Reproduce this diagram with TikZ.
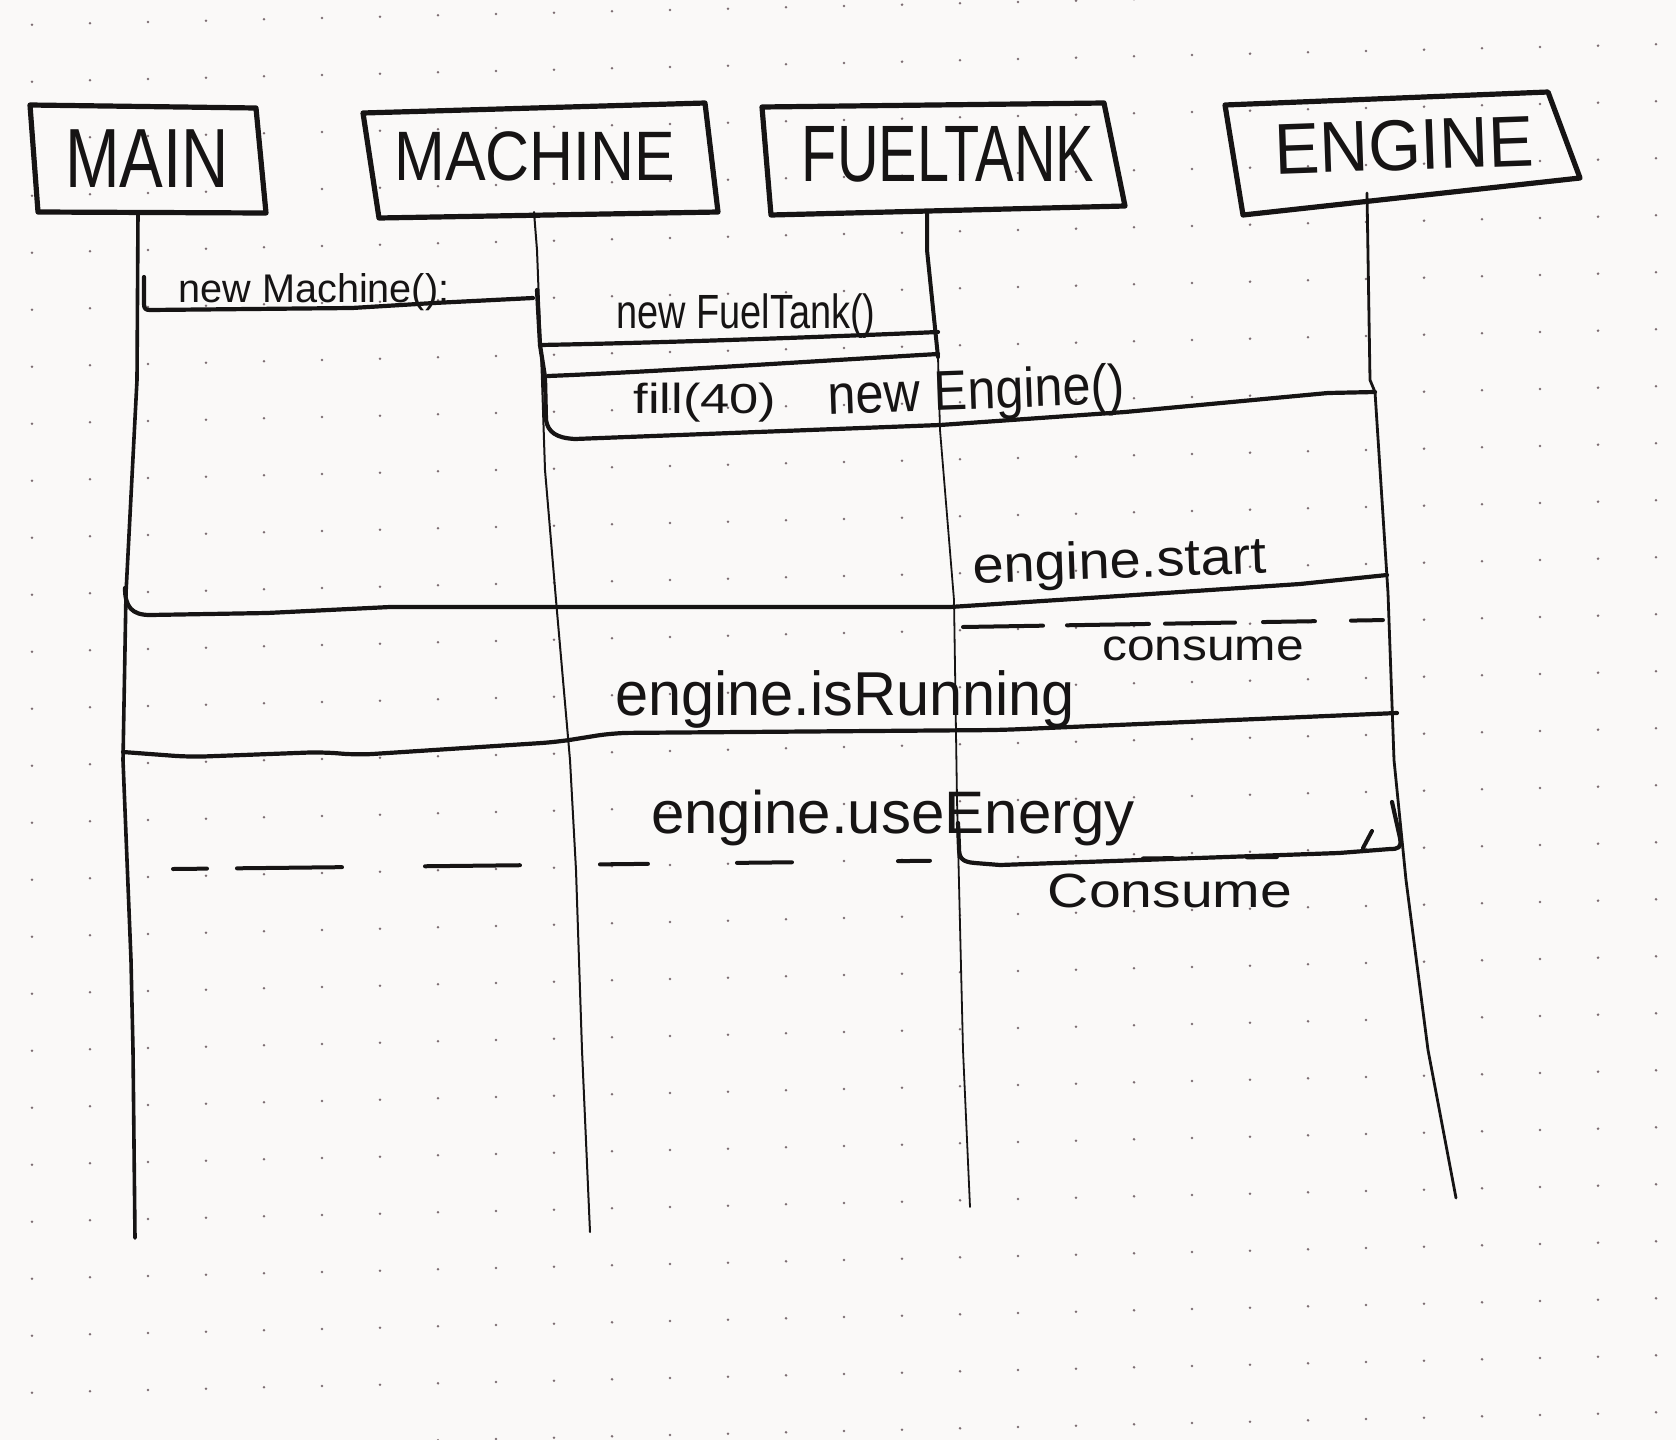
\documentclass[tikz,border=0pt]{standalone}
\usepackage{fontspec}
\setmainfont{Liberation Sans}
\definecolor{ink}{RGB}{22,20,20}
\definecolor{paper}{RGB}{250,249,248}
\definecolor{dotc}{RGB}{125,110,115}
\newcommand{\hw}[3]{\fontsize{#1}{#1}\selectfont\scalebox{#2}[1]{#3}}
\begin{document}
\begin{tikzpicture}[x=0.5pt,y=-0.5pt,
  box/.style={draw=ink,line width=2.6pt,line join=round,line cap=round},
  life/.style={draw=ink,line width=1.2pt,line cap=round,line join=round},
  msg/.style={draw=ink,line width=2.1pt,line cap=round,line join=round},
  ret/.style={draw=ink,line width=2pt,line cap=round},
  lbl/.style={inner sep=0pt,anchor=base,text=ink}]
\fill[paper] (0,0) rectangle (1676,1440);
\useasboundingbox (0,0) rectangle (1676,1440);
\begin{scope}
\clip (0,0) rectangle (1676,1440);
\foreach \i in {0,...,28}{\foreach \j in {0,...,25}{
  \fill[dotc] ({32+\i*58},{25.4+\j*57-0.023*(32+\i*58)}) circle (1.4);
}}
\end{scope}

% ---------- boxes ----------
\coordinate (mainTL) at (30,105);  \coordinate (mainTR) at (256,108);
\coordinate (mainBR) at (266,213); \coordinate (mainBL) at (38,212);
\draw[box] (mainTL) -- (mainTR) -- (mainBR) -- (mainBL) -- cycle;
\coordinate (macTL) at (363,113);  \coordinate (macTR) at (705,103);
\coordinate (macBR) at (718,212);  \coordinate (macBL) at (379,218);
\draw[box] (macTL) -- (macTR) -- (macBR) -- (macBL) -- cycle;
\coordinate (ftTL) at (762,107);   \coordinate (ftTR) at (1104,103);
\coordinate (ftBR) at (1125,206);  \coordinate (ftBL) at (771,215);
\draw[box] (ftTL) -- (ftTR) -- (ftBR) -- (ftBL) -- cycle;
\coordinate (enTL) at (1225,105);  \coordinate (enTR) at (1548,92);
\coordinate (enBR) at (1580,178);  \coordinate (enBL) at (1243,215);
\draw[box] (enTL) -- (enTR) -- (enBR) -- (enBL) -- cycle;

\node[lbl] (main) at (147,187) {\hw{42pt}{0.78}{MAIN}};
\node[lbl] (machine) at (535,180) {\hw{35pt}{0.87}{MACHINE}};
\node[lbl] (fueltank) at (948,181) {\hw{40pt}{0.72}{FUELTANK}};
\node[lbl,rotate=2] (engine) at (1405,170) {\hw{36pt}{0.94}{ENGINE}};

% ---------- lifelines ----------
\coordinate (mainTop) at (138,213); \coordinate (mainEnd) at (135,1238);
\coordinate (macTop) at (534,212);  \coordinate (macEnd) at (590,1232);
\coordinate (ftTop) at (927,213);   \coordinate (ftEnd) at (970,1207);
\coordinate (enTop) at (1367,193);  \coordinate (enEnd) at (1456,1198);
\draw[life,line width=1.8pt] (mainTop) -- (137,380) -- (126,593) -- (123,760) -- (131,960) -- (133,1050) -- (mainEnd);
\draw[life,line width=1pt] (macTop) -- (537,250) -- (542,380) -- (545,470) -- (556,600) -- (570,760) -- (576,870) -- (582,1050) -- (macEnd);
\draw[life,line width=2pt] (ftTop) -- (ftTop |- 0,250) -- (938,357);
\draw[life,line width=0.9pt] (938,357) -- (940,430) -- (954,600) -- (957,800) -- (963,1050) -- (ftEnd);
\draw[life,line width=1.4pt] (enTop) -- (1370,380) -- (1375,392) -- (1388,593) -- (1394,760) -- (1406,880) -- (1428,1050) -- (enEnd);

% ---------- messages ----------
\coordinate (mcIn) at (533,298);
\draw[msg] (144,277) -- (144,304) .. controls (144,309) and (146,310) .. (150,310) -- (352,308) -- (434,303) -- (mcIn);
\draw[msg] (537,290) -- (540,345) -- (545,377) -- (546,420) .. controls (548,432) and (556,438) .. (575,439) -- (940,425) -- (1125,412) -- (1328,393) -- (1375,392);
\draw[msg] (540,345) .. controls (650,343) and (800,338) .. (938,332);
\draw[msg] (548,376) .. controls (650,372) and (800,362) .. (938,354);
\draw[msg] (125,588) .. controls (125,607) and (132,615) .. (150,615) -- (267,613) -- (390,607) -- (950,607) -- (1150,594) -- (1300,584) -- (1387,575);
\draw[ret,dash pattern=on 40pt off 12pt on 41pt off 8pt on 35pt off 14pt on 26pt off 18pt on 16pt off 100pt] (963,627) -- (1387,620);
\draw[msg,rounded corners=8pt] (123,752) -- (190,757) -- (323,752) -- (357,755) -- (557,742) -- (613,733) -- (1000,730) -- (1397,713);
\draw[msg] (1392,802) -- (1400,838) .. controls (1402,848) and (1398,849) .. (1390,849) -- (1339,853) -- (1000,865) -- (975,863) .. controls (962,862) and (959,858) .. (959,848) -- (958,823);
\draw[ret] (1372,831) -- (1363,848);
\draw[ret,dash pattern=on 17pt off 15pt on 52.5pt off 41.5pt on 47.5pt off 40pt on 24pt off 44.5pt on 27.5pt off 53pt on 16pt off 106.5pt on 15pt off 37pt on 15pt off 300pt] (173,869) -- (1277,857);

% ---------- labels ----------
\node[lbl] (lNewMachine) at (314,302) {\hw{20pt}{0.99}{new Machine():}};
\node[lbl] (lNewFuel) at (746,328) {\hw{24pt}{0.79}{new FuelTank()}};
\node[lbl] (lFill) at (705,413) {\hw{21pt}{1.25}{fill(40)}};
\node[lbl,rotate=2] (lNewEngine) at (977,409) {\hw{28pt}{0.9}{new Engine()}};
\node[lbl,rotate=2] (lStart) at (1120,578) {\hw{26pt}{1.08}{engine.start}};
\node[lbl] (lConsume1) at (1203,660) {\hw{22pt}{1.13}{consume}};
\node[lbl] (lRunning) at (845,715) {\hw{31pt}{0.96}{engine.isRunning}};
\node[lbl] (lUse) at (893,833) {\hw{30pt}{1.0}{engine.useEnergy}};
\node[lbl] (lConsume2) at (1170,907) {\hw{24pt}{1.19}{Consume}};
\end{tikzpicture}
\end{document}
